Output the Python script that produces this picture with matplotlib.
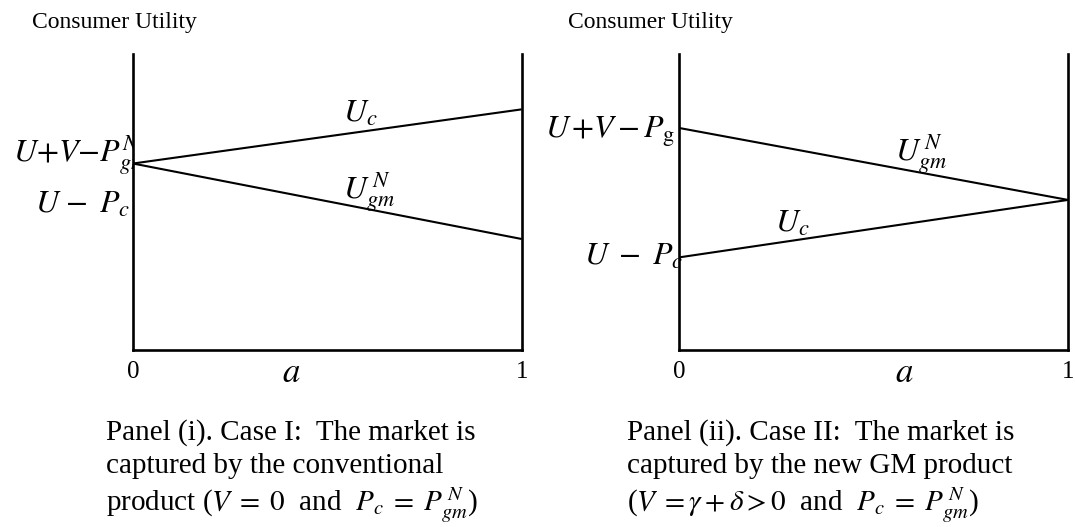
import matplotlib
import matplotlib.pyplot as plt
from matplotlib.patches import Rectangle

matplotlib.use("Agg")

plt.rcParams["font.family"] = ["Liberation Serif", "DejaVu Serif"]
plt.rcParams["mathtext.fontset"] = "stix"

# utility at a = 0 and a = 1 for each line
A = [0, 1]
P1_UC = [6.3, 8.13]
P1_UGM = [6.3, 3.75]
P2_UGM = [7.5, 5.07]
P2_UC = [3.13, 5.07]

XTICKS = [0, 1]
XTICK_LABELS = ["0", "1"]

CAPTION_1 = ["Panel (i). Case I:  The market is",
             "captured by the conventional",
             r"product ($V\;=\;0$  and  $P_c\;=\;P^{\,N}_{gm}$)"]
CAPTION_2 = ["Panel (ii). Case II:  The market is",
             "captured by the new GM product",
             r"($V\;=\gamma+\delta>0$  and  $P_c\;=\;P^{\,N}_{gm}$)"]
CAPTION_Y = [-3.04, -4.15, -5.46]

LW = 1.5
FS_MATH = 23

fig = plt.figure(figsize=(10.75, 5.27), dpi=100)
ax1 = fig.add_axes([133 / 1075, 177 / 527, 388.7 / 1075, 296 / 527])
ax2 = fig.add_axes([679.3 / 1075, 177 / 527, 388.7 / 1075, 296 / 527])


def frame(ax):
    ax.set_xlim(0, 1)
    ax.set_ylim(0, 10)
    ax.spines["top"].set_visible(False)
    for s in ["left", "right", "bottom"]:
        ax.spines[s].set_linewidth(1.9)
    ax.set_yticks([])
    ax.set_xticks(XTICKS)
    ax.set_xticklabels(XTICK_LABELS, fontsize=18)
    ax.tick_params(axis="x", length=0, pad=8)
    ax.set_facecolor("none")


for ax in (ax1, ax2):
    frame(ax)

# panel (i)
ax1.plot(A, P1_UC, color="black", lw=LW, solid_capstyle="butt")
ax1.plot(A, P1_UGM, color="black", lw=LW, solid_capstyle="butt")
ax1.text(-0.26, 10.87, "Consumer Utility", fontsize=17, clip_on=False)
t = ax1.text(-0.3095, 6.36, r"$U{+}V{-}P^{N}_{gm}$", fontsize=FS_MATH, ha="left", va="baseline", clip_on=True)
t.set_clip_path(Rectangle((-1, -20), 1, 40, transform=ax1.transData))
ax1.text(-0.008, 4.63, r"$U\ {-}\ \,P_c$", fontsize=FS_MATH, ha="right", va="baseline", clip_on=False)
ax1.text(0.54, 7.70, r"$U_c$", fontsize=FS_MATH, va="baseline", clip_on=False)
ax1.text(0.54, 5.12, r"$U^{\,N}_{gm}$", fontsize=FS_MATH, va="baseline", clip_on=False)
ax1.text(0.406, -0.8, r"$a$", fontsize=25, ha="center", va="center", clip_on=False)
for y, line in zip(CAPTION_Y, CAPTION_1):
    ax1.text(-0.069, y, line, fontsize=21, va="baseline", clip_on=False)

# panel (ii)
ax2.plot(A, P2_UGM, color="black", lw=LW, solid_capstyle="butt")
ax2.plot(A, P2_UC, color="black", lw=LW, solid_capstyle="butt")
ax2.text(-0.286, 10.87, "Consumer Utility", fontsize=17, clip_on=False)
ax2.text(-0.3455, 7.16, r"$U\,{+}V\,{-}\,P_{\mathrm{g}}$", fontsize=FS_MATH, ha="left", va="baseline", clip_on=False)
ax2.text(0.01, 2.87, r"$U\ \,{-}\ \,P_c$", fontsize=FS_MATH, ha="right", va="baseline", clip_on=False)
ax2.text(0.555, 6.42, r"$U^{\,N}_{gm}$", fontsize=FS_MATH, va="baseline", clip_on=False)
ax2.text(0.246, 3.99, r"$U_c$", fontsize=FS_MATH, va="baseline", clip_on=False)
ax2.text(0.58, -0.8, r"$a$", fontsize=25, ha="center", va="center", clip_on=False)
for y, line in zip(CAPTION_Y, CAPTION_2):
    ax2.text(-0.135, y, line, fontsize=21, va="baseline", clip_on=False)

fig.savefig("out.png", dpi=100)
